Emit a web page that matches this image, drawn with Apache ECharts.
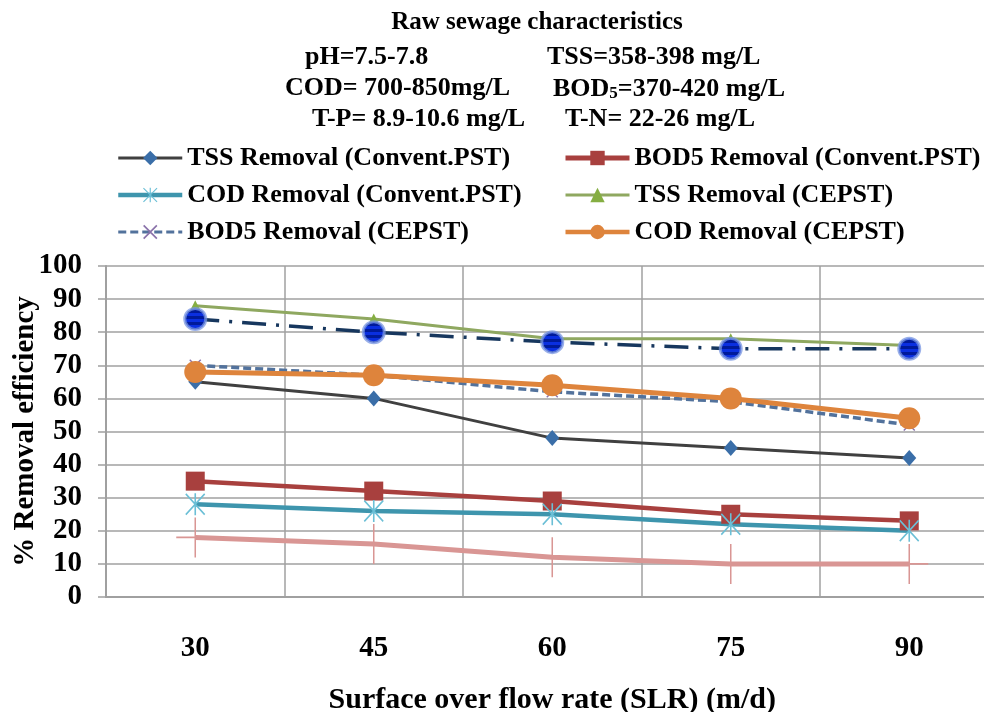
<!DOCTYPE html>
<html>
<head>
<meta charset="utf-8">
<script src="https://cdn.jsdelivr.net/npm/echarts@6/dist/echarts.min.js"></script>
<style>html,body{margin:0;padding:0;background:#fff;}#c{width:984px;height:712px;}</style>
</head>
<body>
<div id="c"></div>
<script>
// ---- data ----
const categories = ['30', '45', '60', '75', '90'];
const tssConv   = [65, 60, 48, 45, 42];
const bod5Conv  = [35, 32, 29, 25, 23];
const codConv   = [28, 26, 25, 22, 20];
const tssCepst  = [88, 84, 78, 78, 76];
const bod5Cepst = [70, 67, 62, 59, 52];
const codCepst  = [68, 67, 64, 60, 54];
const dashDotSeries = [84, 80, 77, 75, 75];
const pinkSeries    = [18, 16, 12, 10, 10];
const yMin = 0, yMax = 100, yStep = 10;
const seriesNames = [
  'TSS Removal (Convent.PST)', 'BOD5 Removal (Convent.PST)', 'COD Removal (Convent.PST)',
  'TSS Removal (CEPST)', 'BOD5 Removal (CEPST)', 'COD Removal (CEPST)'
];
const headerTitle = 'Raw sewage characteristics';
const headerLines = [
  ['pH=7.5-7.8', 'TSS=358-398 mg/L'],
  ['COD= 700-850mg/L', '{a|BOD}{s|5}{a|=370-420 mg/L}'],
  ['T-P= 8.9-10.6 mg/L', 'T-N= 22-26 mg/L']
];
const xName = 'Surface over flow rate (SLR) (m/d)';
const yName = '% Removal efficiency';

// ---- styles ----
const FF = 'Liberation Serif';
const asterisk = 'path://M9.2,0H10.8V20H9.2Z M1.1,0 L20,18.9 L18.9,20 L0,1.1Z M18.9,0 L20,1.1 L1.1,20 L0,18.9Z';
const xMark = 'path://M1,0 L12,11 L11,12 L0,1Z M11,0 L12,1 L1,12 L0,11Z';
const plusMark = 'path://M19.2,0H20.8V40H19.2Z M0,19.2H40V20.8H0Z';
const stripes = [];
const nS = 8;
for (let i = 0; i < nS; i++) {
  const c = i % 2 === 0 ? '#0a2fe0' : '#001a9a';
  stripes.push({offset: i / nS, color: c}, {offset: (i + 1) / nS, color: c});
}
const stripeFill = {type: 'linear', x: 0, y: 0, x2: 0, y2: 1, colorStops: stripes};

const headerGraphics = [
  {type: 'text', x: 537, y: 23, style: {text: headerTitle, font: 'bold 25px "' + FF + '"', fill: '#000', align: 'center', verticalAlign: 'middle'}}
];
const hx = [[305, 547], [285, 553], [312, 565]];
const hy = [57, 88, 119];
headerLines.forEach((pair, r) => {
  pair.forEach((t, c) => {
    headerGraphics.push({
      type: 'text', x: hx[r][c], y: hy[r],
      style: {
        text: t, font: 'bold 26px "' + FF + '"', fill: '#000', align: 'left', verticalAlign: 'middle',
        rich: {
          a: {fontFamily: FF, fontWeight: 'bold', fontSize: 26, color: '#000', lineHeight: 28, verticalAlign: 'bottom'},
          s: {fontFamily: FF, fontWeight: 'bold', fontSize: 17, color: '#000', lineHeight: 28, verticalAlign: 'bottom'}
        }
      }
    });
  });
});

const legendText = {fontFamily: FF, fontSize: 26, fontWeight: 'bold', color: '#000'};
const legendWidths = [3, 5, 4.5, 3, 3, 4.5];
const legendItem = (i) => ({name: seriesNames[i], lineStyle: {width: legendWidths[i]}});

const option = {
  animation: false,
  backgroundColor: '#fff',
  graphic: headerGraphics,
  legend: [
    {orient: 'vertical', left: 116, top: 145, padding: 0, itemWidth: 64, itemHeight: 18, itemGap: 11,
     data: [legendItem(0), legendItem(2), legendItem(4)], textStyle: legendText, selectedMode: false},
    {orient: 'vertical', left: 563, top: 145, padding: 0, itemWidth: 64, itemHeight: 18, itemGap: 11,
     data: [legendItem(1), legendItem(3), legendItem(5)], textStyle: legendText, selectedMode: false}
  ],
  grid: {left: 106, right: -14.5, top: 266, bottom: 115, containLabel: false, outerBoundsMode: 'none'},
  xAxis: {
    type: 'category', data: categories, boundaryGap: true,
    name: xName, nameLocation: 'middle', nameGap: 88, nameMoveOverlap: false,
    nameTextStyle: {fontFamily: FF, fontSize: 30, fontWeight: 'bold', color: '#000'},
    axisLine: {show: true, lineStyle: {color: '#a0a0a0', width: 2}},
    axisTick: {show: false},
    axisLabel: {margin: 37, fontFamily: FF, fontSize: 29, fontWeight: 'bold', color: '#000'},
    splitLine: {show: true, interval: 0, lineStyle: {color: '#a0a0a0', width: 1.5}}
  },
  yAxis: {
    type: 'value', min: yMin, max: yMax, interval: yStep,
    name: yName, nameLocation: 'middle', nameGap: 66, nameRotate: 90, nameMoveOverlap: false,
    nameTextStyle: {fontFamily: FF, fontSize: 29, fontWeight: 'bold', color: '#000'},
    axisLine: {show: true, lineStyle: {color: '#a0a0a0', width: 2}},
    axisTick: {show: true, length: 8, lineStyle: {color: '#a0a0a0', width: 1.5}},
    axisLabel: {margin: 24, fontFamily: FF, fontSize: 29, fontWeight: 'bold', color: '#000'},
    splitLine: {show: true, lineStyle: {color: '#a0a0a0', width: 1.5}}
  },
  series: [
    {name: seriesNames[0], type: 'line', data: tssConv, symbol: 'diamond', symbolSize: [14, 16],
     lineStyle: {color: '#404040', width: 3}, itemStyle: {color: '#3a6ea8'}},
    {name: seriesNames[1], type: 'line', data: bod5Conv, symbol: 'rect', symbolSize: 19,
     lineStyle: {color: '#a8403e', width: 4.5}, itemStyle: {color: '#a8403e'}},
    {name: seriesNames[2], type: 'line', data: codConv, symbol: asterisk, symbolSize: [20, 22],
     lineStyle: {color: '#3e95ad', width: 4.5}, itemStyle: {color: '#6bbfd6'}},
    {name: seriesNames[3], type: 'line', data: tssCepst, symbol: 'triangle', symbolSize: [11, 11],
     lineStyle: {color: '#8fa860', width: 3}, itemStyle: {color: '#85ae42'}},
    {name: seriesNames[4], type: 'line', data: bod5Cepst, symbol: xMark, symbolSize: 12,
     lineStyle: {color: '#52729c', width: 3.5, type: [8, 4]}, itemStyle: {color: '#8a72aa'}},
    {name: seriesNames[5], type: 'line', data: codCepst, symbol: 'circle', symbolSize: 22,
     lineStyle: {color: '#de843c', width: 5}, itemStyle: {color: '#de843c'}},
    {name: 'dashdot', type: 'line', data: dashDotSeries, symbol: 'circle', symbolSize: 21,
     lineStyle: {color: '#17375e', width: 3.5, type: [24, 10, 3, 10]},
     itemStyle: {color: stripeFill, borderColor: 'rgba(120,150,225,0.75)', borderWidth: 3}},
    {name: 'pink', type: 'line', data: pinkSeries, symbol: plusMark, symbolSize: [38, 40],
     lineStyle: {color: '#d99694', width: 5}, itemStyle: {color: '#d99694'}}
  ]
};
const chart = echarts.init(document.getElementById('c'), null, {renderer: 'canvas'});
chart.setOption(option);
</script>
</body>
</html>
